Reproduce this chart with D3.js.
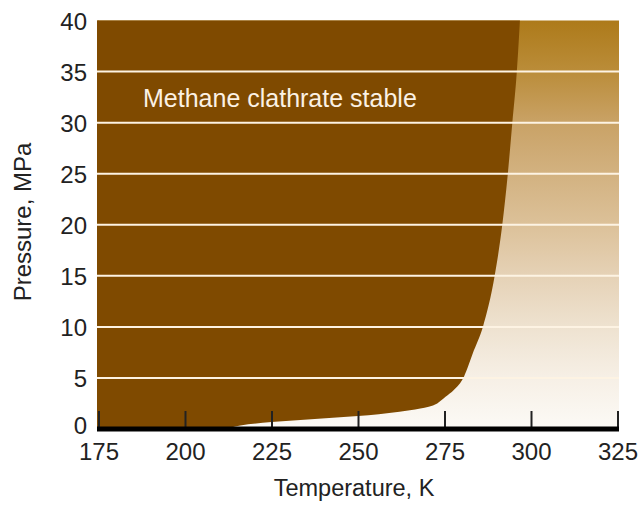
<!DOCTYPE html>
<html>
<head>
<meta charset="utf-8">
<script src="https://cdn.jsdelivr.net/npm/d3@7"></script>
<style>
  html, body { margin: 0; padding: 0; background: #fff; }
  svg { display: block; }
  text { font-family: "Liberation Sans", Arial, sans-serif; fill: #222; }
</style>
</head>
<body>
<svg id="chart" width="642" height="505"></svg>
<script>
// Methane clathrate phase boundary: temperature (K) vs pressure (MPa)
const xTicks = [175, 200, 225, 250, 275, 300, 325];
const yTicks = [0, 5, 10, 15, 20, 25, 30, 35, 40];
const gridValues = [5, 10, 15, 20, 25, 30, 35];

// Stability boundary, ordered by temperature
const boundaryT = [175, 210, 216, 225, 237.5, 250, 262, 268, 272.9, 273.8, 275.3, 277.7, 280.6, 283.5, 286.1, 289.5, 291.7, 293.3, 294.6, 295.9, 296.8];
const boundaryP = [0, 0, 0.35, 0.68, 0.98, 1.27, 1.69, 2.0, 2.5, 2.74, 3.16, 3.82, 5.1, 7.7, 10, 15, 20, 25, 30, 35, 40];

const regionLabel = "Methane clathrate stable";
const xTitle = "Temperature, K";
const yTitle = "Pressure, MPa";

const svg = d3.select("#chart");
const plot = { left: 97, right: 619, top: 20.5, bottom: 429 };

const x = d3.scaleLinear().domain([175, 325]).range([98.5, 617.5]);
const y = d3.scaleLinear().domain([0, 40]).range([429, 20.5]);

// Vertical gradient for the region where the clathrate is unstable
const defs = svg.append("defs");
const grad = defs.append("linearGradient")
  .attr("id", "warm").attr("x1", 0).attr("y1", 0).attr("x2", 0).attr("y2", 1);
[[0, "#ad7a1a"], [0.12, "#ba8c38"], [0.25, "#c9a266"], [0.37, "#d2b17f"],
 [0.5, "#dcc199"], [0.62, "#e5d1b5"], [0.75, "#eee2d0"], [0.87, "#f6efe5"], [1, "#fcfaf6"]]
  .forEach(([o, c]) => grad.append("stop").attr("offset", o).attr("stop-color", c));

svg.append("rect")
  .attr("x", plot.left).attr("y", plot.top)
  .attr("width", plot.right - plot.left).attr("height", plot.bottom - plot.top)
  .attr("fill", "url(#warm)");

// Stable region: everything colder than the boundary
const pts = boundaryT.map((t, i) => [t, boundaryP[i]]);
const area = d3.area()
  .x(d => x(d[0]))
  .y0(d => y(d[1]))
  .y1(y(40))
  .curve(d3.curveMonotoneX);

svg.append("path")
  .datum(pts)
  .attr("d", area)
  .attr("fill", "#7f4a00");

// Left strip so the stable region reaches the plot edge
svg.append("rect")
  .attr("x", plot.left).attr("y", plot.top)
  .attr("width", x(175) - plot.left + 0.5).attr("height", plot.bottom - plot.top)
  .attr("fill", "#7f4a00");

// Horizontal grid lines
svg.append("g")
  .selectAll("line")
  .data(gridValues)
  .join("line")
  .attr("x1", plot.left).attr("x2", plot.right)
  .attr("y1", d => y(d)).attr("y2", d => y(d))
  .attr("stroke", "#fdf3e3").attr("stroke-width", 2);

// Region label
svg.append("text")
  .attr("x", 143).attr("y", 107)
  .style("fill", "#fbf1e4")
  .style("font-size", "25px")
  .text(regionLabel);

// Bottom axis: heavy baseline with upward ticks
const xAxis = d3.axisBottom(x).tickValues(xTicks).tickSize(0).tickPadding(0);
const gx = svg.append("g").attr("transform", `translate(0,${plot.bottom})`).call(xAxis);
gx.select(".domain").remove();
gx.selectAll(".tick text")
  .attr("y", 31)
  .attr("dy", 0)
  .style("font-size", "24px")
  .style("fill", "#222")
  .style("font-family", "'Liberation Sans', Arial, sans-serif");
gx.selectAll(".tick")
  .append("line")
  .attr("y1", -18).attr("y2", -2)
  .attr("stroke", "#222").attr("stroke-width", 2);

svg.append("rect")
  .attr("x", plot.left).attr("y", plot.bottom - 2.5)
  .attr("width", plot.right - plot.left).attr("height", 5)
  .attr("fill", "#000");

// Left axis labels only; the zero label sits a little higher, clear of the baseline
const yAxis = d3.axisLeft(y).tickValues(yTicks).tickSize(0).tickPadding(0);
const gy = svg.append("g").attr("transform", `translate(87,0)`).call(yAxis);
gy.select(".domain").remove();
gy.selectAll(".tick text")
  .attr("x", 0)
  .attr("dy", d => d === 0 ? "0.17em" : "0.36em")
  .style("font-size", "24px")
  .style("fill", "#222")
  .style("font-family", "'Liberation Sans', Arial, sans-serif");

// Axis titles
svg.append("text")
  .attr("x", (plot.left + plot.right) / 2 - 4).attr("y", 496)
  .attr("text-anchor", "middle")
  .style("font-size", "23.5px")
  .text(xTitle);

svg.append("text")
  .attr("transform", "translate(31,222) rotate(-90)")
  .attr("text-anchor", "middle")
  .style("font-size", "24px")
  .text(yTitle);
</script>
</body>
</html>
